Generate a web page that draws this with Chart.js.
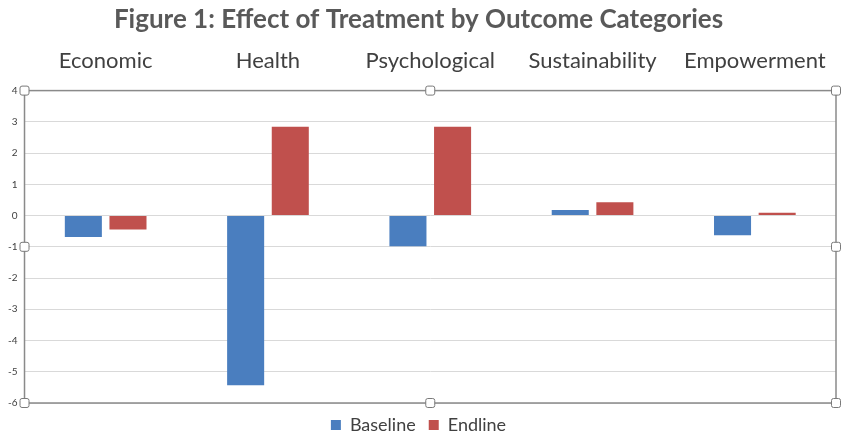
<!DOCTYPE html>
<html>
<head>
<meta charset="utf-8">
<script src="https://cdn.jsdelivr.net/npm/chart.js@4/dist/chart.umd.min.js"></script>
<style>
  html, body { margin: 0; padding: 0; background: #fff; }
  #wrap { width: 846px; height: 434px; position: relative; }
</style>
</head>
<body>
<div id="wrap"><canvas id="chart"></canvas></div>
<script>
  "use strict";

  const categories = ["Economic", "Health", "Psychological", "Sustainability", "Empowerment"];
  const baseline = [-0.69, -5.43, -0.98, 0.18, -0.63];
  const endline = [-0.45, 2.84, 2.84, 0.43, 0.09];
  const yTicks = [4, 3, 2, 1, 0, -1, -2, -3, -4, -5, -6];

  const FONT = "Lato, 'Open Sans', sans-serif";

  // plot frame with the little selection handles seen in the original
  const frameHandles = {
    id: "frameHandles",
    afterDraw(chart) {
      const { ctx, chartArea: a } = chart;
      ctx.save();
      ctx.strokeStyle = "#8a8a8a";
      ctx.lineWidth = 1.5;
      ctx.strokeRect(a.left, a.top, a.right - a.left, a.bottom - a.top);
      const mx = (a.left + a.right) / 2;
      const my = (a.top + a.bottom) / 2;
      const pts = [
        [a.left, a.top], [mx, a.top], [a.right, a.top],
        [a.left, my], [a.right, my],
        [a.left, a.bottom], [mx, a.bottom], [a.right, a.bottom],
      ];
      const s = 9;
      ctx.lineWidth = 1;
      ctx.strokeStyle = "#7a7a7a";
      ctx.fillStyle = "#fff";
      pts.forEach(([x, y]) => {
        ctx.beginPath();
        ctx.roundRect(x - s / 2, y - s / 2, s, s, 2);
        ctx.fill();
        ctx.stroke();
      });
      ctx.restore();
    },
  };

  new Chart(document.getElementById("chart"), {
    type: "bar",
    data: {
      labels: categories,
      datasets: [
        {
          label: "Baseline",
          data: baseline,
          backgroundColor: "#4a7ebf",
          borderWidth: 0,
          categoryPercentage: 0.55,
          barPercentage: 0.83,
        },
        {
          label: "Endline",
          data: endline,
          backgroundColor: "#c0504d",
          borderWidth: 0,
          categoryPercentage: 0.55,
          barPercentage: 0.83,
        },
      ],
    },
    plugins: [frameHandles],
    options: {
      responsive: true,
      maintainAspectRatio: false,
      animation: false,
      layout: { padding: { left: 1, right: 10, top: 0, bottom: -10 } },
      scales: {
        x: {
          position: "top",
          grid: { display: false },
          border: { display: false },
          ticks: {
            color: "#404040",
            font: { family: FONT, size: 22 },
            padding: 8,
          },
        },
        y: {
          min: -6,
          max: 4,
          afterBuildTicks: (axis) => {
            axis.ticks = yTicks.map((v) => ({ value: v }));
          },
          grid: { color: "#d9d9d9", lineWidth: 1, drawTicks: false },
          border: { display: false },
          ticks: {
            color: "#404040",
            font: { family: FONT, size: 10 },
            padding: 7,
          },
        },
      },
      plugins: {
        title: {
          display: true,
          text: "Figure 1: Effect of Treatment by Outcome Categories",
          color: "#595959",
          font: { family: FONT, size: 26, weight: "bold" },
          padding: { top: 4, bottom: 5 },
        },
        legend: {
          position: "bottom",
          labels: {
            color: "#404040",
            font: { family: FONT, size: 18 },
            boxWidth: 10,
            boxHeight: 10,
            padding: 13,
          },
        },
        tooltip: { enabled: false },
      },
    },
  });
</script>
</body>
</html>
